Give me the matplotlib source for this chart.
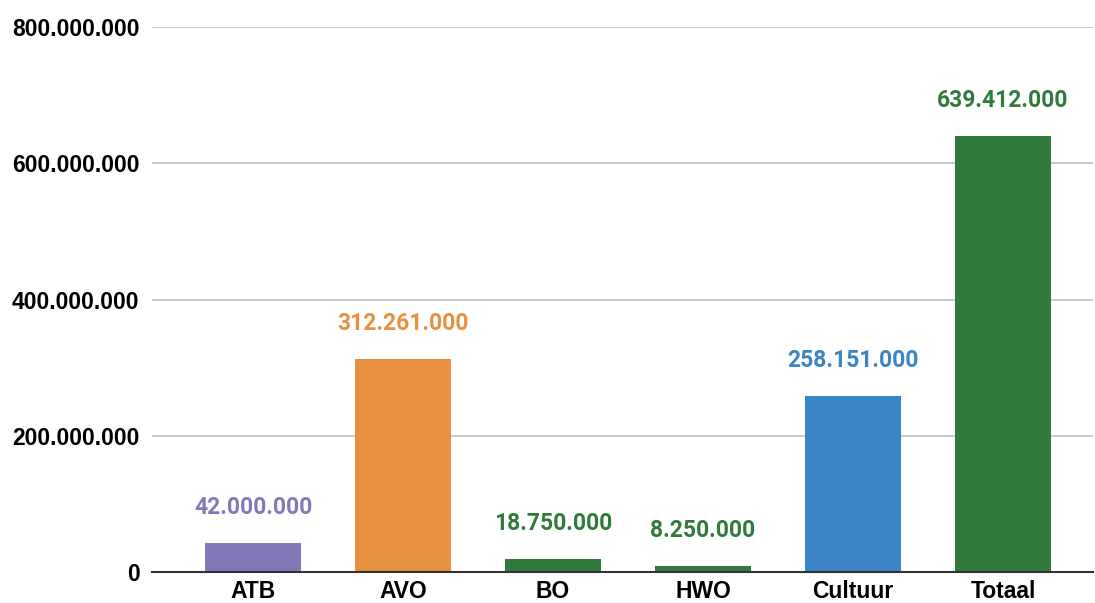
import matplotlib.pyplot as plt
from matplotlib.ticker import FuncFormatter

categorieen = ["ATB", "AVO", "BO", "HWO", "Cultuur", "Totaal"]
bedragen = [42000000, 312261000, 18750000, 8250000, 258151000, 639412000]
kleuren = ["#8479b8", "#e69141", "#317a3b", "#317a3b", "#3a85c5", "#317a3b"]


def punt_format(v, pos=None):
    return f"{int(v):,}".replace(",", ".")


fig = plt.figure(figsize=(10.95, 6.03), dpi=100)
ax = fig.add_axes([0.1388, 0.0514, 0.8594, 0.9038])

x = range(len(categorieen))
ax.bar(x, bedragen, width=0.64, color=kleuren, zorder=3)

for i, (v, c) in enumerate(zip(bedragen, kleuren)):
    ax.annotate(punt_format(v), (i, v), xytext=(0, 26), textcoords="offset points",
                ha="center", va="center", color=c, fontsize=16.5,
                fontweight="bold", family="Roboto")

ax.set_xlim(-0.673, 5.6)
ax.set_ylim(0, 800000000)
ax.set_yticks([0, 200000000, 400000000, 600000000, 800000000])
ax.yaxis.set_major_formatter(FuncFormatter(punt_format))
ax.set_xticks(list(x))
ax.set_xticklabels(categorieen)

for lbl in ax.get_yticklabels() + ax.get_xticklabels():
    lbl.set_fontfamily("Liberation Sans")
    lbl.set_fontweight("bold")
    lbl.set_fontsize(16.5)
    lbl.set_color("#000000")

ax.tick_params(axis="both", length=0)
ax.tick_params(axis="y", pad=9)
ax.tick_params(axis="x", pad=6)
ax.grid(axis="y", color="#c8c8c8", linewidth=1.4, zorder=0)
for s in ["top", "right", "left"]:
    ax.spines[s].set_visible(False)
ax.spines["bottom"].set_color("#333333")
ax.spines["bottom"].set_linewidth(1.5)
ax.spines["bottom"].set_zorder(4)

fig.savefig("out.png", dpi=100)
